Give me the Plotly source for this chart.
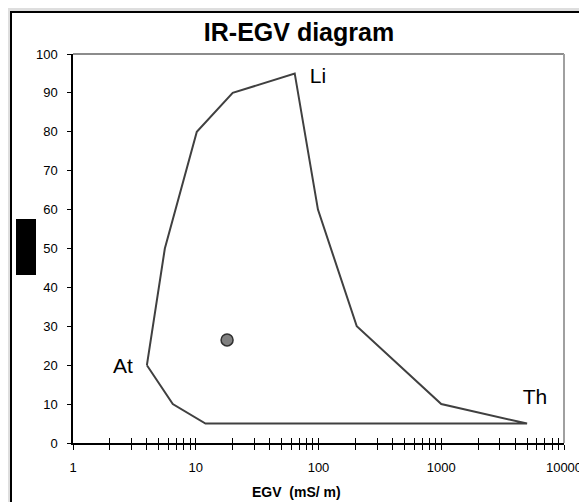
import plotly.graph_objects as go

# Boundary polygon of the IR-EGV diagram
egv = [4, 6.5, 12, 5000, 1000, 205, 99, 64, 20, 10.2, 5.6, 4]
ir = [20, 10, 5, 5, 10, 30, 60, 95, 90, 80, 50, 20]

# Sample point
sample_egv = [18]
sample_ir = [26.5]

# End-member labels
label_text = ["Li", "At", "Th"]
label_egv = [99, 2.55, 5800]
label_ir = [94, 19.3, 11.5]

x_tickvals = [1, 10, 100, 1000, 10000]
x_ticktext = ["1", "10", "100", "1000", "10000"]
y_tickvals = list(range(0, 101, 10))
minor_vals = [m * 10 ** k for k in range(4) for m in range(2, 10)]

# page has an 8px body margin; figure sized to fill the rest
OFF = 8
W, H = 587 - OFF, 502 - OFF
L, R, T, B = 73 - OFF, 23, 54 - OFF, 59
pw, ph = W - L - R, H - T - B

def px2paper_x(px):
    # px given in screenshot pixels
    return (px - OFF - L) / pw

def px2paper_y(py):
    return (H - B - (py - OFF)) / ph

fig = go.Figure()
fig.add_trace(go.Scatter(x=egv, y=ir, mode="lines",
                         line=dict(color="#404040", width=2),
                         hoverinfo="skip", showlegend=False))
fig.add_trace(go.Scatter(x=sample_egv, y=sample_ir, mode="markers",
                         marker=dict(size=12, color="#808080",
                                     line=dict(color="#303030", width=1.5)),
                         showlegend=False))
fig.add_trace(go.Scatter(x=label_egv, y=label_ir, mode="text", text=label_text,
                         textfont=dict(family="Liberation Sans, Arial", size=21, color="black"),
                         showlegend=False, hoverinfo="skip"))
# invisible trace for overlay axis (crossing ticks)
fig.add_trace(go.Scatter(x=[1], y=[0], xaxis="x2", mode="markers",
                         marker=dict(opacity=0), showlegend=False, hoverinfo="skip"))

fig.update_layout(
    width=W, height=H,
    margin=dict(l=L, r=R, t=T, b=B, autoexpand=False),
    paper_bgcolor="#dedede",
    plot_bgcolor="white",
    font=dict(family="Liberation Sans, Arial", color="black", size=13),
    title=dict(text="<b>IR-EGV diagram</b>", x=(299 - OFF) / W, xref="container",
               xanchor="center", y=1 - (32 - OFF) / H, yanchor="middle",
               font=dict(size=25, color="black")),
    xaxis=dict(type="log", range=[0, 4], tickmode="array",
               tickvals=x_tickvals, ticktext=x_ticktext,
               ticks="outside", ticklen=5, tickcolor="black", tickwidth=1,
               showline=True, linecolor="black", linewidth=1.5,
               showgrid=False, zeroline=False, ticklabelstandoff=7,
               minor=dict(tickmode="array", tickvals=minor_vals, ticks="outside",
                          ticklen=5, tickcolor="black", tickwidth=1, showgrid=False),
               tickfont=dict(size=13)),
    xaxis2=dict(type="log", range=[0, 4], overlaying="x", side="bottom",
                tickmode="array", tickvals=x_tickvals, showticklabels=False,
                ticks="inside", ticklen=5, tickcolor="black", tickwidth=1,
                showline=False, showgrid=False, zeroline=False,
                minor=dict(tickmode="array", tickvals=minor_vals, ticks="inside",
                           ticklen=5, tickcolor="black", tickwidth=1, showgrid=False)),
    yaxis=dict(range=[0, 100], tickmode="array", tickvals=y_tickvals,
               ticks="outside", ticklen=4, tickcolor="black",
               showline=True, linecolor="black", linewidth=1.5, ticklabelstandoff=7,
               showgrid=False, zeroline=False, tickfont=dict(size=13)),
    annotations=[
        dict(text="<b>EGV  (mS/ m)</b>", xref="paper", yref="paper",
             x=px2paper_x(296), y=px2paper_y(492), xanchor="center", yanchor="middle",
             showarrow=False, font=dict(size=14, color="black")),
    ],
    shapes=[
        # white chart panel with black border
        dict(type="rect", xref="paper", yref="paper", layer="below",
             x0=px2paper_x(11), x1=px2paper_x(600),
             y0=px2paper_y(520), y1=px2paper_y(12),
             fillcolor="white", line=dict(color="black", width=2)),
        # gray top and right plot borders
        dict(type="line", xref="paper", yref="paper", x0=0, x1=1, y0=1, y1=1,
             line=dict(color="#8c8c8c", width=2)),
        dict(type="line", xref="paper", yref="paper", x0=1, x1=1, y0=0, y1=1,
             line=dict(color="#a0a0a0", width=2)),
        # black box over axis title area
        dict(type="rect", xref="paper", yref="paper", layer="above",
             x0=px2paper_x(16), x1=px2paper_x(36),
             y0=px2paper_y(275), y1=px2paper_y(219),
             fillcolor="black", line=dict(width=0)),
    ],
)

fig.write_html("out.html")
